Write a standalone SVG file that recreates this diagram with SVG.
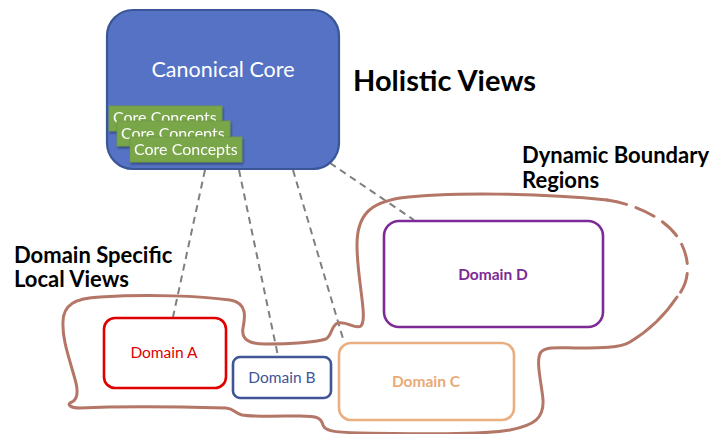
<svg xmlns="http://www.w3.org/2000/svg" width="712" height="434" viewBox="0 0 712 434">
<defs>
<style>
.lbl{font-family:Lato,"Open Sans","Liberation Sans",sans-serif;font-weight:bold;fill:#000}
.cc{font-family:Lato,"Open Sans","Liberation Sans",sans-serif;font-size:16px;fill:#fff}
.ccbox{fill:#78A64A;stroke:#6E9A42;stroke-width:0.8}
.dom{fill:#fff;stroke-width:2.6}
.dt{font-family:Lato,"Open Sans","Liberation Sans",sans-serif;text-anchor:middle}
.conn{fill:none;stroke:#7F7F7F;stroke-width:2;stroke-dasharray:7,5}
.bnd{fill:none;stroke:#B47666;stroke-width:3;stroke-linecap:round;stroke-linejoin:round}
</style>
<filter id="sh" x="-10%" y="-20%" width="130%" height="160%">
<feDropShadow dx="1" dy="2" stdDeviation="1.2" flood-color="#000" flood-opacity="0.35"/>
</filter>
</defs>
<rect width="712" height="434" fill="#fff"/>

<g id="connectors">
<line class="conn" x1="205" y1="170" x2="173" y2="317"/>
<line class="conn" x1="239" y1="170" x2="278" y2="356"/>
<line class="conn" x1="293" y1="170" x2="344" y2="342"/>
<line class="conn" x1="330" y1="163" x2="414" y2="220"/>
</g>

<g id="boundary">
<path class="bnd" d="M677,297 C665,315 650,330 630,342 C620,348 600,348 580,348 C560,348 547,346 541,352 C535,360 542,385 543,400 C544,418 535,425 510,430 C480,435 420,434 360,433 C332,432 325,431 323,425 C321,418 318,416 300,416 C280,416 252,417 242,415 C234,413 235,409 226,408 C190,407 120,406 80,408 C70,408 66,404 72,402 C78,399 78,392 76,383 C70,360 62,340 63,322 C63,305 75,298 100,297 C150,294 200,296 230,300 C248,303 245,318 243,328 C241,340 250,344 265,344 C290,344 315,342 326,339 C332,336 331,325 338,323 C348,321 355,330 361,326 C368,318 357,280 357,245 C357,215 370,203 400,198 C450,192 540,193 607,200"/>
<path class="bnd" stroke-dasharray="20,10" stroke-linecap="butt" d="M607,200 C640,205 672,222 682,245 C690,262 690,282 677,297"/>
</g>

<g id="canonical-core">
<rect x="107" y="10" width="232" height="159" rx="26" fill="#5572C4" stroke="#3B5697" stroke-width="2.2"/>
<text x="223" y="77" font-family="Lato,'Open Sans','Liberation Sans',sans-serif" font-size="21.5" fill="#fff" text-anchor="middle">Canonical Core</text>
</g>

<g id="core-concepts-1" filter="url(#sh)">
<rect class="ccbox" x="109" y="106" width="113" height="25"/>
<text class="cc" x="113" y="123">Core Concepts</text>
</g>
<g id="core-concepts-2" filter="url(#sh)">
<rect class="ccbox" x="117" y="121" width="113" height="25"/>
<text class="cc" x="121" y="139">Core Concepts</text>
</g>
<g id="core-concepts-3" filter="url(#sh)">
<rect class="ccbox" x="130" y="137" width="112" height="25"/>
<text class="cc" x="134" y="155">Core Concepts</text>
</g>

<g id="holistic-views-label">
<text class="lbl" x="353" y="91" font-size="29">Holistic Views</text>
</g>
<g id="dynamic-boundary-label">
<text class="lbl" x="522" y="163" font-size="22">Dynamic Boundary</text>
<text class="lbl" x="522" y="188" font-size="22">Regions</text>
</g>
<g id="domain-specific-label">
<text class="lbl" x="14" y="263" font-size="22">Domain Specific</text>
<text class="lbl" x="14" y="287" font-size="22">Local Views</text>
</g>

<g id="domain-a">
<rect class="dom" x="104" y="318" width="122" height="70" rx="11" stroke="#E00000"/>
<text class="dt" x="164" y="358" font-size="15.5" fill="#E00000">Domain A</text>
</g>
<g id="domain-b">
<rect class="dom" x="233" y="357" width="98" height="41" rx="7" stroke="#3F5597"/>
<text class="dt" x="282" y="383" font-size="15.5" fill="#3F5597">Domain B</text>
</g>
<g id="domain-c">
<rect class="dom" x="339" y="343" width="175" height="77" rx="12" stroke="#E9AF80"/>
<text class="dt" x="426" y="387" font-size="15.5" font-weight="bold" fill="#E9AA78">Domain C</text>
</g>
<g id="domain-d">
<rect class="dom" x="384" y="221" width="219" height="106" rx="15" stroke="#7E2A96"/>
<text class="dt" x="493" y="280" font-size="15.5" font-weight="bold" fill="#7E2A96">Domain D</text>
</g>
</svg>
